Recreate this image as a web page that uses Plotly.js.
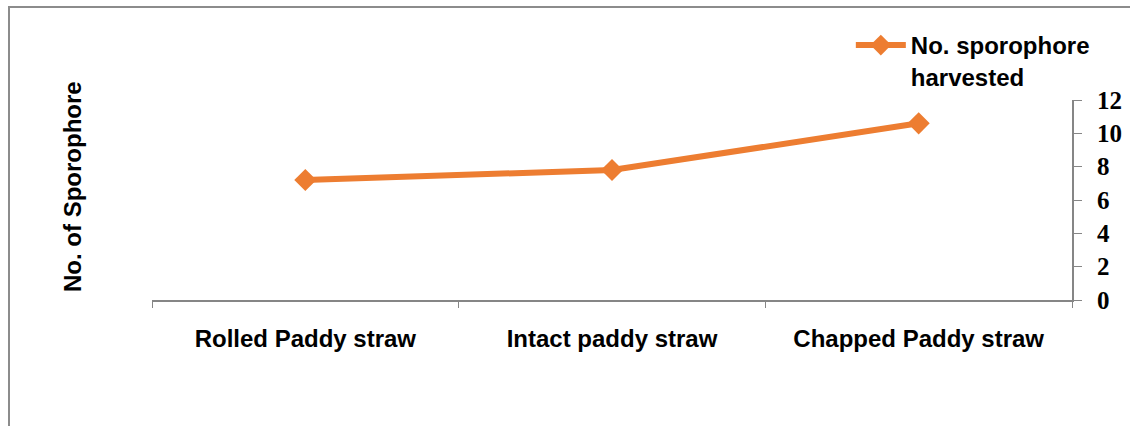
<!DOCTYPE html>
<html>
<head>
<meta charset="utf-8">
<script src="https://cdn.plot.ly/plotly-3.0.1.min.js"></script>
<style>
  html, body { margin: 0; padding: 0; background: #fff; }
  #wrap { position: relative; width: 1130px; height: 426px; overflow: hidden; }
  #chart { position: absolute; left: 0; top: 0; width: 1130px; height: 426px; }
  #frame { position: absolute; left: 8px; top: 6px; width: 1200px; height: 500px;
           border-left: 2px solid #8c8c8c; border-top: 2px solid #8c8c8c; pointer-events: none; }
</style>
</head>
<body>
<div id="wrap">
  <div id="chart"></div>
  <div id="frame"></div>
</div>
<script>
const categories = ["Rolled Paddy straw", "Intact paddy straw", "Chapped Paddy straw"];
const sporophores = [7.2, 7.8, 10.6];
const seriesName = "No. sporophore<br>harvested";
const yTicks = [0, 2, 4, 6, 8, 10, 12];
const yTitle = "No. of Sporophore";

const orange = "#ED7D31";
const arialBold = "Liberation Sans, Arial, sans-serif";

const trace = {
  type: "scatter",
  mode: "lines+markers",
  x: categories,
  y: sporophores,
  name: seriesName,
  line: { color: orange, width: 6 },
  marker: { symbol: "diamond", size: 17, color: orange }
};

const layout = {
  width: 1130,
  height: 426,
  margin: { l: 152, r: 58, t: 100, b: 126, pad: 0 },
  paper_bgcolor: "#ffffff",
  plot_bgcolor: "#ffffff",
  showlegend: true,
  legend: {
    x: 0.7596, y: 1.385, xanchor: "left", yanchor: "top",
    valign: "top",
    itemwidth: 50,
    tracegroupgap: 0,
    bgcolor: "rgba(0,0,0,0)",
    font: { family: arialBold, size: 24, color: "#000", weight: "bold" }
  },
  xaxis: {
    type: "category",
    range: [-0.5, 2.5],
    tickson: "boundaries",
    ticks: "outside",
    ticklen: 6,
    tickcolor: "#868686",
    showline: true,
    linecolor: "#868686",
    linewidth: 2,
    showgrid: false,
    zeroline: false,
    ticklabelstandoff: 16,
    tickfont: { family: arialBold, size: 24, color: "#000", weight: "bold" }
  },
  yaxis: {
    side: "right",
    range: [0, 12],
    tickvals: yTicks,
    ticktext: yTicks.map(String),
    ticks: "outside",
    ticklen: 8,
    tickcolor: "#868686",
    showline: true,
    linecolor: "#868686",
    linewidth: 2,
    showgrid: false,
    zeroline: false,
    ticklabelstandoff: 10,
    tickfont: { family: "Liberation Serif", size: 25, color: "#000", weight: 700 }
  },
  annotations: [{
    text: yTitle,
    xref: "paper", yref: "paper",
    x: -0.087, y: 0.57,
    xanchor: "center", yanchor: "middle",
    textangle: -90,
    showarrow: false,
    font: { family: arialBold, size: 24, color: "#000", weight: "bold" }
  }]
};

Plotly.newPlot("chart", [trace], layout, { displayModeBar: false, staticPlot: true });
</script>
</body>
</html>
